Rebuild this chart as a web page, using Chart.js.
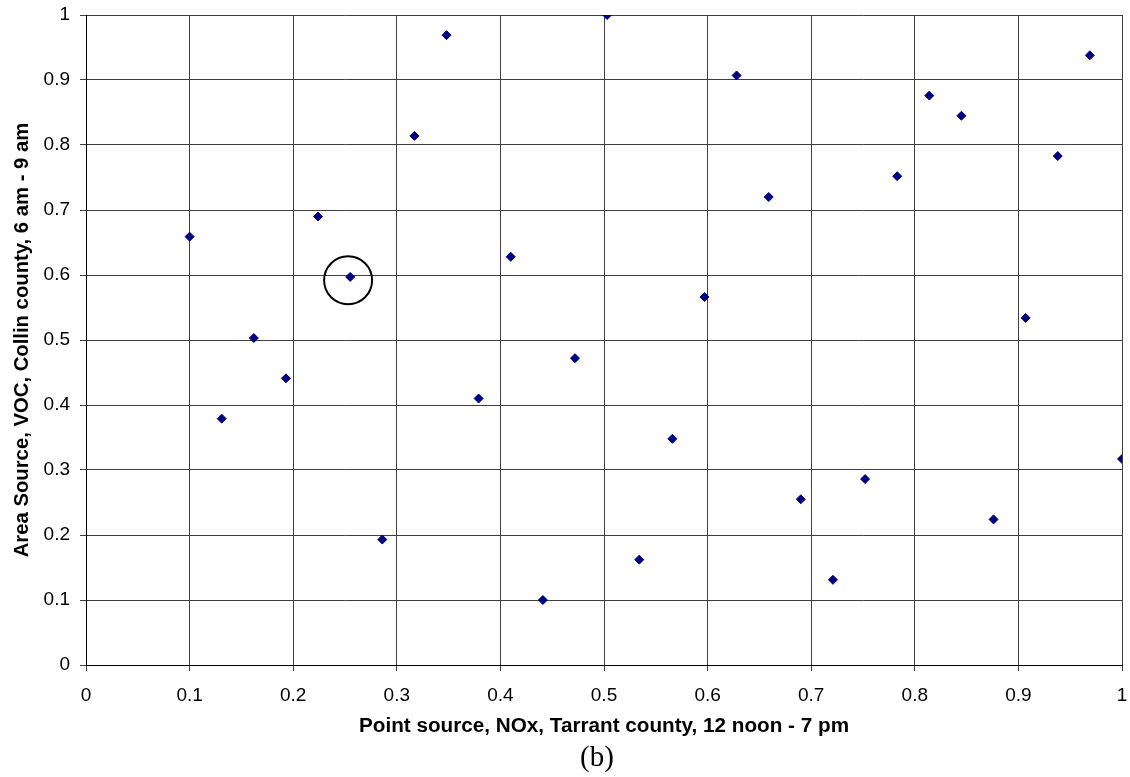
<!DOCTYPE html>
<html>
<head>
<meta charset="utf-8">
<script src="https://cdn.jsdelivr.net/npm/chart.js@4"></script>
<style>
    html, body { margin: 0; padding: 0; background: #fff; }
    canvas { display: block; }
</style>
</head>
<body>
<canvas id="scatterChart" width="1130" height="777"></canvas>
<script>
// Point source NOx (Tarrant) vs area source VOC (Collin)
const xValues = [0.100, 0.131, 0.162, 0.193, 0.224, 0.255, 0.286, 0.317, 0.348, 0.379,
                 0.410, 0.441, 0.472, 0.503, 0.534, 0.566, 0.597, 0.628, 0.659, 0.690,
                 0.721, 0.752, 0.783, 0.814, 0.845, 0.876, 0.907, 0.938, 0.969, 1.000];
const yValues = [0.659, 0.379, 0.503, 0.441, 0.690, 0.597, 0.193, 0.814, 0.969, 0.410,
                 0.628, 0.100, 0.472, 1.000, 0.162, 0.348, 0.566, 0.907, 0.720, 0.255,
                 0.131, 0.286, 0.752, 0.876, 0.845, 0.224, 0.534, 0.783, 0.938, 0.317];

const xTickLabels = ['0', '0.1', '0.2', '0.3', '0.4', '0.5', '0.6', '0.7', '0.8', '0.9', '1'];
const yTickLabels = ['0', '0.1', '0.2', '0.3', '0.4', '0.5', '0.6', '0.7', '0.8', '0.9', '1'];

const xTitle = 'Point source, NOx, Tarrant county, 12 noon - 7 pm';
const yTitle = 'Area Source, VOC, Collin county, 6 am - 9 am';
const caption = '(b)';

// circled highlight, centre in data units
const highlight = { x: 0.253, y: 0.592 };

const gridColor = '#404040';
const markerColor = '#000080';
const sans = '"Liberation Sans", Arial, sans-serif';

// ring around the highlighted point
const highlightRing = {
    id: 'highlightRing',
    afterDatasetsDraw(chart) {
        const { ctx, scales } = chart;
        const px = scales.x.getPixelForValue(highlight.x);
        const py = scales.y.getPixelForValue(highlight.y);
        ctx.save();
        ctx.beginPath();
        ctx.arc(px, py, 24, 0, Math.PI * 2);
        ctx.lineWidth = 2;
        ctx.strokeStyle = '#000';
        ctx.stroke();
        ctx.restore();
    }
};

// "(b)" caption under the axis title
const captionText = {
    id: 'captionText',
    afterDraw(chart) {
        const { ctx, chartArea } = chart;
        ctx.save();
        ctx.font = '29px "Liberation Serif", "Times New Roman", serif';
        ctx.fillStyle = '#000';
        ctx.textAlign = 'center';
        ctx.textBaseline = 'middle';
        ctx.fillText(caption, (chartArea.left + chartArea.right) / 2 - 7, 758);
        ctx.restore();
    }
};

const points = xValues.map((x, i) => ({ x, y: yValues[i] }));

new Chart(document.getElementById('scatterChart'), {
    type: 'scatter',
    data: {
        datasets: [{
            data: points,
            pointStyle: 'rectRot',
            pointRadius: 4.5,
            pointHoverRadius: 4.5,
            backgroundColor: markerColor,
            borderColor: markerColor,
            borderWidth: 1
        }]
    },
    options: {
        responsive: false,
        animation: false,
        devicePixelRatio: 1,
        layout: { padding: { left: 0, right: 8, top: 15, bottom: 0 } },
        plugins: {
            legend: { display: false },
            tooltip: { enabled: false }
        },
        scales: {
            x: {
                type: 'linear',
                min: 0,
                max: 1,
                afterFit: s => {
                    s.height = 112;
                    s.paddingLeft = 0;
                    s.paddingRight = 0;
                },
                ticks: {
                    stepSize: 0.1,
                    padding: 13,
                    color: '#000',
                    maxRotation: 0,
                    autoSkip: false,
                    font: { family: sans, size: 19 },
                    callback: (v, i) => xTickLabels[i]
                },
                grid: { color: gridColor, tickColor: gridColor, tickLength: 6, lineWidth: 1 },
                border: { display: true, color: '#000' },
                title: {
                    display: true,
                    text: xTitle,
                    color: '#000',
                    padding: { top: 0, bottom: 38 },
                    font: { family: sans, size: 20.7, weight: 'bold' }
                }
            },
            y: {
                type: 'linear',
                min: 0,
                max: 1,
                afterFit: s => {
                    s.width = 86;
                    s.paddingTop = 0;
                    s.paddingBottom = 0;
                },
                ticks: {
                    stepSize: 0.1,
                    padding: 10,
                    color: '#000',
                    autoSkip: false,
                    font: { family: sans, size: 19 },
                    callback: (v, i) => yTickLabels[i]
                },
                grid: { color: gridColor, tickColor: gridColor, tickLength: 6, lineWidth: 1 },
                border: { display: true, color: '#000' },
                title: {
                    display: true,
                    text: yTitle,
                    color: '#000',
                    padding: { top: 10, bottom: 0 },
                    font: { family: sans, size: 20.3, weight: 'bold' }
                }
            }
        }
    },
    plugins: [highlightRing, captionText]
});
</script>
</body>
</html>
